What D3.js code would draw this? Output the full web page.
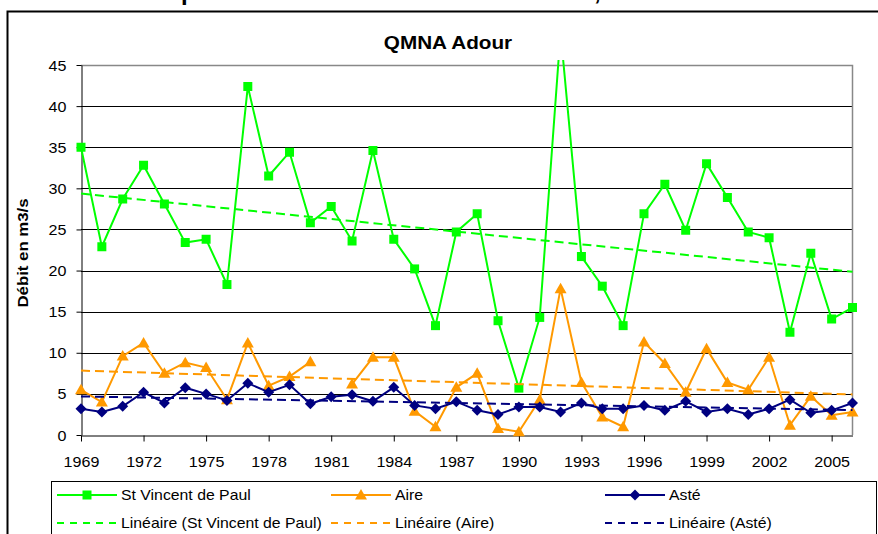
<!DOCTYPE html>
<html>
<head>
<meta charset="UTF-8">
<title>QMNA Adour</title>
<script src="https://cdnjs.cloudflare.com/ajax/libs/d3/7.8.5/d3.min.js"></script>
<style>
  body { margin: 0; background: #fff; }
  text { font-family: Arial, "Liberation Sans", sans-serif; fill: #000; }
</style>
</head>
<body>
<div id="chart"></div>
<script>
var years = [1969, 1970, 1971, 1972, 1973, 1974, 1975, 1976, 1977, 1978,
             1979, 1980, 1981, 1982, 1983, 1984, 1985, 1986, 1987, 1988,
             1989, 1990, 1991, 1992, 1993, 1994, 1995, 1996, 1997, 1998,
             1999, 2000, 2001, 2002, 2003, 2004, 2005, 2006];

var stVincent = [35.0, 22.9, 28.7, 32.8, 28.1, 23.4, 23.8, 18.3, 42.4, 31.5,
                 34.4, 25.8, 27.8, 23.6, 34.6, 23.8, 20.2, 13.3, 24.7, 26.9,
                 13.9, 5.7, 14.3, 49.0, 21.7, 18.1, 13.3, 26.9, 30.5, 24.9,
                 33.0, 28.9, 24.7, 24.0, 12.5, 22.1, 14.1, 15.5];

var aire = [5.5, 4.0, 9.6, 11.2, 7.5, 8.8, 8.2, 4.3, 11.2, 6.0,
            7.1, 8.9, null, 6.2, 9.45, 9.45, 2.9, 1.0, 5.8, 7.5,
            0.8, 0.4, 4.3, 17.8, 6.4, 2.2, 1.0, 11.3, 8.7, 5.2,
            10.5, 6.4, 5.5, 9.45, 1.2, 4.7, 2.4, 2.8];

var aste = [3.2, 2.8, 3.5, 5.2, 3.9, 5.75, 5.0, 4.2, 6.3, 5.2,
            6.1, 3.8, 4.65, 4.9, 4.1, 5.8, 3.6, 3.2, 4.05, 3.0,
            2.5, 3.4, 3.4, 2.8, 3.9, 3.2, 3.2, 3.6, 3.0, 4.1,
            2.8, 3.2, 2.5, 3.2, 4.3, 2.7, 3.0, 3.9];

var yTicks = [0, 5, 10, 15, 20, 25, 30, 35, 40, 45];
var xTickYears = [1969, 1972, 1975, 1978, 1981, 1984, 1987, 1990, 1993, 1996, 1999, 2002, 2005];

var series = [
  { name: "St Vincent de Paul", values: stVincent, color: "#00ff00", marker: "square" },
  { name: "Aire", values: aire, color: "#ff9900", marker: "triangle" },
  { name: "Asté", values: aste, color: "#000080", marker: "diamond" }
];

var W = 878, H = 534,
    plotL = 81, plotR = 852.5, plotT = 65, plotB = 435,
    stretch = 1.15;

var svg = d3.select("#chart").append("svg")
    .attr("width", W)
    .attr("height", H);

// cut-off heading above the chart
svg.append("text").attr("x", 181).attr("y", 0).attr("font-size", 24).attr("font-weight", "bold").text("p");
svg.append("text").attr("x", 594).attr("y", 0).attr("font-size", 24).attr("font-weight", "bold").text(",");

// chart frame
svg.append("rect")
    .attr("x", 7.5).attr("y", 11.5)
    .attr("width", 900).attr("height", 600)
    .attr("fill", "#fff")
    .attr("stroke", "#000").attr("stroke-width", 2);

var x = d3.scaleLinear().domain([1969, 2006]).range([plotL, plotR]);
var y = d3.scaleLinear().domain([0, 45]).range([plotB, plotT]);

// title
svg.append("text")
    .attr("transform", "translate(448,49) scale(" + stretch + ",1)")
    .attr("text-anchor", "middle")
    .attr("font-size", 18)
    .attr("font-weight", "bold")
    .text("QMNA Adour");

// y label
svg.append("text")
    .attr("transform", "translate(28,253) rotate(-90) scale(1.2,1)")
    .attr("text-anchor", "middle")
    .attr("font-size", 14)
    .attr("font-weight", "bold")
    .text("Débit en m3/s");

// gridlines
svg.append("g")
  .selectAll("line")
  .data(yTicks.filter(function(d) { return d > 0 && d < 45; }))
  .enter().append("line")
    .attr("x1", plotL).attr("x2", plotR)
    .attr("y1", function(d) { return Math.round(y(d)) + 0.5; })
    .attr("y2", function(d) { return Math.round(y(d)) + 0.5; })
    .attr("stroke", "#000").attr("stroke-width", 1);

// plot area border (top and right)
svg.append("path")
    .attr("d", "M" + plotL + "," + (plotT + 0.5) + "H" + plotR + "V" + plotB)
    .attr("fill", "none")
    .attr("stroke", "#888").attr("stroke-width", 1.5);

// axes
var yAxis = svg.append("g")
    .attr("transform", "translate(" + (plotL + 0.5) + ",0)")
    .call(d3.axisLeft(y).tickValues(yTicks).tickSize(5).tickSizeOuter(0));
yAxis.select(".domain").attr("stroke", "#000");
yAxis.selectAll(".tick line").attr("stroke", "#000");
yAxis.selectAll(".tick text")
    .attr("font-size", 14)
    .attr("font-family", null)
    .attr("x", -15 / stretch)
    .attr("dy", "0.36em")
    .attr("transform", "scale(" + stretch + ",1)");

var xAxis = svg.append("g")
    .attr("transform", "translate(0," + (plotB + 0.5) + ")")
    .call(d3.axisBottom(x).tickValues(xTickYears).tickFormat(d3.format("d")).tickSize(6).tickSizeOuter(0));
xAxis.select(".domain").attr("stroke", "#000");
xAxis.selectAll(".tick line").attr("stroke", "#000");
xAxis.selectAll(".tick text")
    .attr("font-size", 14)
    .attr("font-family", null)
    .attr("y", 32)
    .attr("dy", 0)
    .attr("transform", "scale(" + stretch + ",1)");

// clip for series
svg.append("clipPath").attr("id", "plotclip")
  .append("rect")
    .attr("x", plotL - 10).attr("y", 60)
    .attr("width", plotR - plotL + 20).attr("height", plotB - 60 + 10);

var plot = svg.append("g").attr("clip-path", "url(#plotclip)");

var line = d3.line()
    .defined(function(d) { return d != null; })
    .x(function(d, i) { return x(years[i]); })
    .y(function(d) { return y(d); });

function markerPath(type) {
  if (type === "square") return "M-4.5,-4.5H4.5V4.5H-4.5Z";
  if (type === "triangle") return "M0,-6L6,4.5H-6Z";
  return "M0,-5.5L5.5,0L0,5.5L-5.5,0Z";
}

function regression(vals) {
  var pts = [];
  vals.forEach(function(v, i) { if (v != null) pts.push([years[i], v]); });
  var mx = d3.mean(pts, function(p) { return p[0]; }),
      my = d3.mean(pts, function(p) { return p[1]; });
  var num = d3.sum(pts, function(p) { return (p[0] - mx) * (p[1] - my); }),
      den = d3.sum(pts, function(p) { return (p[0] - mx) * (p[0] - mx); });
  var b = num / den, a = my - b * mx;
  return [[1969, a + b * 1969], [2006, a + b * 2006]];
}

series.forEach(function(s) {
  plot.append("path")
      .datum(s.values)
      .attr("d", line)
      .attr("fill", "none")
      .attr("stroke", s.color)
      .attr("stroke-width", 2);

  plot.selectAll(null)
      .data(s.values.map(function(v, i) { return { v: v, year: years[i] }; })
              .filter(function(d) { return d.v != null; }))
      .enter().append("path")
      .attr("transform", function(d) { return "translate(" + x(d.year) + "," + y(d.v) + ")"; })
      .attr("d", markerPath(s.marker))
      .attr("fill", s.color);
});

series.forEach(function(s) {
  var t = regression(s.values);
  plot.append("line")
      .attr("x1", x(t[0][0])).attr("y1", y(t[0][1]))
      .attr("x2", x(t[1][0])).attr("y2", y(t[1][1]))
      .attr("stroke", s.color)
      .attr("stroke-width", 2)
      .attr("stroke-dasharray", "9,5");
});

// legend
var legend = svg.append("g");
legend.append("rect")
    .attr("x", 51.5).attr("y", 481.5)
    .attr("width", 825).attr("height", 80)
    .attr("fill", "#fff")
    .attr("stroke", "#000").attr("stroke-width", 1);

var colX = [57, 331, 605];
series.forEach(function(s, i) {
  var x0 = colX[i];
  legend.append("line")
      .attr("x1", x0).attr("x2", x0 + 60)
      .attr("y1", 495).attr("y2", 495)
      .attr("stroke", s.color).attr("stroke-width", 2);
  legend.append("path")
      .attr("transform", "translate(" + (x0 + 30) + ",495)")
      .attr("d", markerPath(s.marker))
      .attr("fill", s.color);
  legend.append("text")
      .attr("transform", "translate(" + (x0 + 64) + ",500) scale(1.13,1)")
      .attr("font-size", 14)
      .text(s.name);

  legend.append("line")
      .attr("x1", x0).attr("x2", x0 + 60)
      .attr("y1", 523).attr("y2", 523)
      .attr("stroke", s.color).attr("stroke-width", 2)
      .attr("stroke-dasharray", "7,6");
  legend.append("text")
      .attr("transform", "translate(" + (x0 + 64) + ",528) scale(1.13,1)")
      .attr("font-size", 14)
      .text("Linéaire (" + s.name + ")");
});
</script>
</body>
</html>
